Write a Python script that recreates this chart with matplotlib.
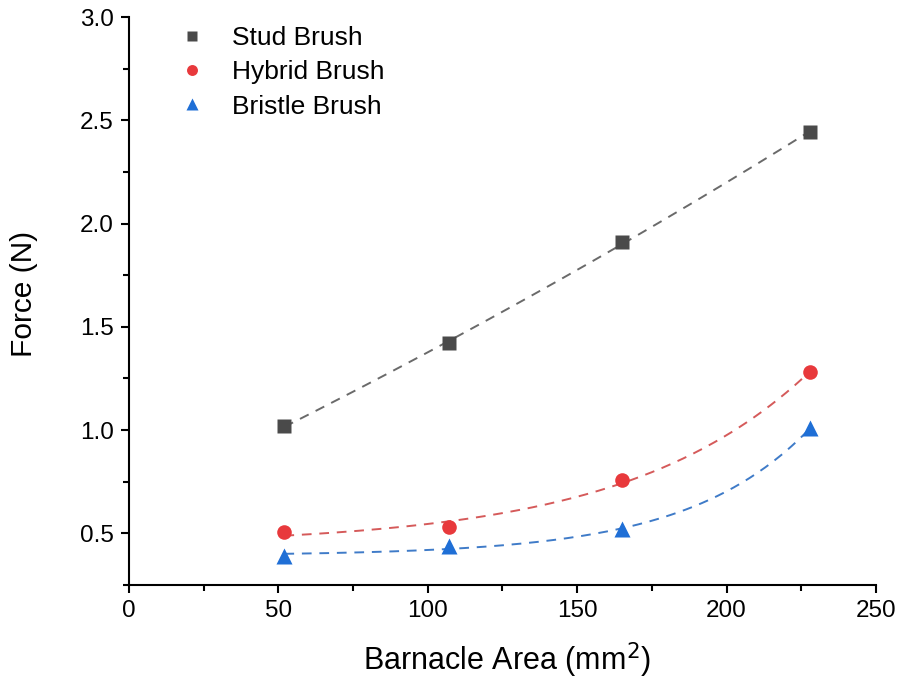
import numpy as np
import matplotlib
matplotlib.use('Agg')
import matplotlib.pyplot as plt
from matplotlib.ticker import MultipleLocator

plt.rcParams['font.family'] = ['Liberation Sans', 'DejaVu Sans']

# data
area = [52, 107, 165, 228]
stud = [1.02, 1.42, 1.91, 2.445]
hybrid = [0.505, 0.53, 0.757, 1.283]
bristle = [0.39, 0.44, 0.52, 1.01]


# y = y0 + A*exp(x/t), t by grid search, y0 and A by least squares
def expfit(x, y):
    x = np.asarray(x, float)
    y = np.asarray(y, float)
    best = None
    for t in np.linspace(10, 2000, 4000):
        M = np.column_stack([np.ones_like(x), np.exp(x / t)])
        c, res, _, _ = np.linalg.lstsq(M, y, rcond=None)
        err = np.sum((M @ c - y) ** 2)
        if best is None or err < best[0]:
            best = (err, t, c)
    _, t, c = best
    xs = np.linspace(x.min(), x.max(), 200)
    return xs, c[0] + c[1] * np.exp(xs / t)


fig = plt.figure(figsize=(9.03, 6.82), dpi=100)
ax = fig.add_axes([0.1429, 0.1422, 0.8271, 0.8328])

series = [
    ('Stud Brush', stud, 's', '#4a4a4a', '#6a6a6a', 9.5),
    ('Hybrid Brush', hybrid, 'o', '#e8393c', '#d55a5a', 10.5),
    ('Bristle Brush', bristle, '^', '#1f6fd6', '#3f7bc8', 11),
]
for name, vals, mk, col, lcol, ms in series:
    xs, ys = expfit(area, vals)
    ax.plot(xs, ys, '--', color=lcol, lw=1.4, dashes=(5, 4), zorder=2)
    ax.plot(area, vals, mk, color=col, ms=ms, mec='none', label=name, zorder=3)

ax.set_xlim(0, 250)
ax.set_ylim(0.25, 3.0)
ax.xaxis.set_major_locator(MultipleLocator(50))
ax.xaxis.set_minor_locator(MultipleLocator(25))
ax.yaxis.set_major_locator(MultipleLocator(0.5))
ax.yaxis.set_minor_locator(MultipleLocator(0.25))
ax.set_yticks([0.5, 1.0, 1.5, 2.0, 2.5, 3.0])
ax.set_yticklabels(['0.5', '1.0', '1.5', '2.0', '2.5', '3.0'])

for s in ['top', 'right']:
    ax.spines[s].set_visible(False)
for s in ['left', 'bottom']:
    ax.spines[s].set_linewidth(1.5)
ax.tick_params(which='major', direction='out', length=6, width=1.5, labelsize=17.5, pad=5)
ax.tick_params(which='minor', direction='out', length=4, width=1.5)

ax.set_xlabel('Barnacle Area (mm$^2$)', fontsize=22, va='center')
ax.xaxis.set_label_coords(0.5055, -0.132)
ax.set_ylabel('Force (N)', fontsize=21.5, va='center')
ax.yaxis.set_label_coords(-0.1406, 0.512)

ax.legend(loc='upper left', bbox_to_anchor=(0.053, 1.002), frameon=False,
          fontsize=19, handlelength=1.0, handletextpad=1.0, labelspacing=0.38,
          borderaxespad=0, markerscale=0.75)

fig.savefig('out.png', dpi=100)
